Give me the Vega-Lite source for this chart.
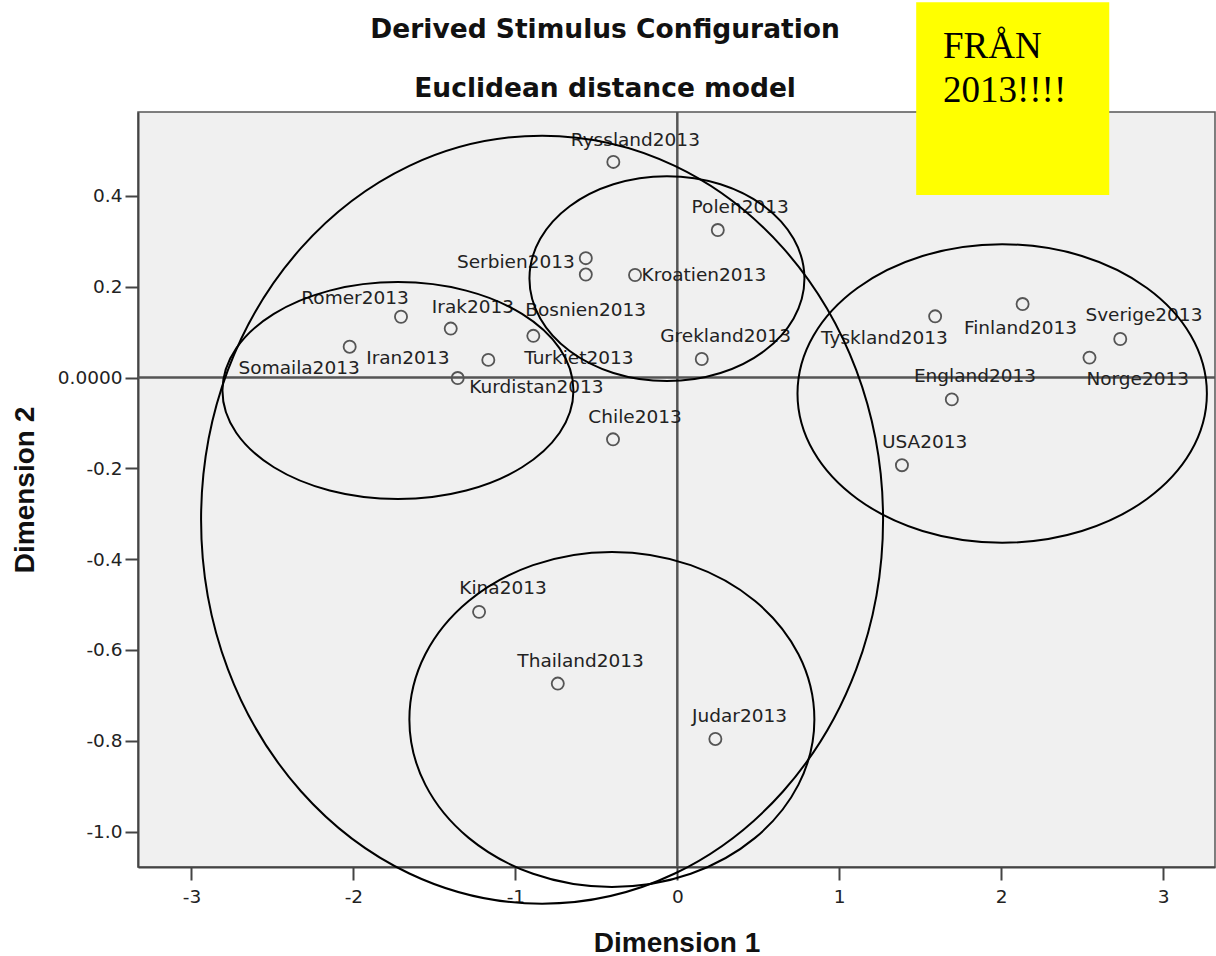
{
  "$schema": "https://vega.github.io/schema/vega-lite/v6.json",
  "width": 1077,
  "height": 755,
  "autosize": {"type": "none"},
  "padding": {"left": 138, "top": 112, "right": 1, "bottom": 89},
  "background": "white",
  "config": {
    "view": {"fill": "#f0f0f0", "stroke": "#555", "strokeWidth": 1.5},
    "axis": {
      "grid": false,
      "domainColor": "#444",
      "domainWidth": 2,
      "tickColor": "#444",
      "tickWidth": 2,
      "tickSize": 13,
      "labelFont": "DejaVu Sans",
      "labelFontSize": 18.5,
      "labelColor": "#222",
      "labelOverlap": false,
      "labelFlush": false,
      "labelBound": false,
      "titleFont": "Liberation Sans",
      "titleFontWeight": "bold",
      "titleFontSize": 28,
      "titleColor": "#111"
    }
  },
  "datasets": {
    "points": [
      {"name": "Ryssland2013", "d1": -0.395, "d2": 0.475, "lx": -0.259, "ly": 0.510},
      {"name": "Polen2013", "d1": 0.250, "d2": 0.325, "lx": 0.388, "ly": 0.362},
      {"name": "Serbien2013", "d1": -0.565, "d2": 0.263, "lx": -0.997, "ly": 0.242},
      {"name": "Bosnien2013", "d1": -0.565, "d2": 0.227, "lx": -0.566, "ly": 0.136},
      {"name": "Kroatien2013", "d1": -0.261, "d2": 0.226, "lx": 0.164, "ly": 0.213},
      {"name": "Romer2013", "d1": -1.706, "d2": 0.134, "lx": -1.990, "ly": 0.163},
      {"name": "Irak2013", "d1": -1.399, "d2": 0.108, "lx": -1.262, "ly": 0.143},
      {"name": "Somaila2013", "d1": -2.023, "d2": 0.068, "lx": -2.335, "ly": 0.008},
      {"name": "Iran2013", "d1": -1.167, "d2": 0.039, "lx": -1.664, "ly": 0.030},
      {"name": "Turkiet2013", "d1": -0.889, "d2": 0.092, "lx": -0.608, "ly": 0.031},
      {"name": "Kurdistan2013", "d1": -1.356, "d2": -0.001, "lx": -0.870, "ly": -0.033},
      {"name": "Grekland2013", "d1": 0.151, "d2": 0.041, "lx": 0.298, "ly": 0.079},
      {"name": "Chile2013", "d1": -0.397, "d2": -0.136, "lx": -0.261, "ly": -0.101},
      {"name": "Kina2013", "d1": -1.224, "d2": -0.516, "lx": -1.076, "ly": -0.477},
      {"name": "Thailand2013", "d1": -0.738, "d2": -0.674, "lx": -0.597, "ly": -0.637},
      {"name": "Judar2013", "d1": 0.235, "d2": -0.796, "lx": 0.384, "ly": -0.759},
      {"name": "USA2013", "d1": 1.387, "d2": -0.193, "lx": 1.527, "ly": -0.154},
      {"name": "England2013", "d1": 1.695, "d2": -0.048, "lx": 1.838, "ly": -0.009},
      {"name": "Tyskland2013", "d1": 1.592, "d2": 0.135, "lx": 1.279, "ly": 0.075},
      {"name": "Finland2013", "d1": 2.132, "d2": 0.162, "lx": 2.119, "ly": 0.097},
      {"name": "Sverige2013", "d1": 2.735, "d2": 0.085, "lx": 2.881, "ly": 0.125},
      {"name": "Norge2013", "d1": 2.545, "d2": 0.044, "lx": 2.843, "ly": -0.017}
    ],
    "ellipses": [
      {"group": "big", "cx": -0.835, "cy": -0.313},
      {"group": "center", "cx": -0.064, "cy": 0.218},
      {"group": "left", "cx": -1.725, "cy": -0.0286},
      {"group": "right", "cx": 2.006, "cy": -0.035},
      {"group": "bottom", "cx": -0.404, "cy": -0.753}
    ]
  },
  "layer": [
    {
      "data": {"values": [{}]},
      "mark": {"type": "rule", "color": "#555", "strokeWidth": 2.5},
      "encoding": {"x": {"datum": 0, "type": "quantitative"}}
    },
    {
      "data": {"values": [{}]},
      "mark": {"type": "rule", "color": "#555", "strokeWidth": 2.5},
      "encoding": {"y": {"datum": 0, "type": "quantitative"}}
    },
    {
      "data": {"name": "points"},
      "mark": {"type": "point", "shape": "circle", "filled": false, "size": 147, "stroke": "#555", "strokeWidth": 1.8, "opacity": 1},
      "encoding": {
        "x": {
          "field": "d1", "type": "quantitative", "title": "Dimension 1",
          "scale": {"domain": [-3.33, 3.32], "nice": false, "zero": false},
          "axis": {
            "values": [-3, -2, -1, 0, 1, 2, 3],
            "labelExpr": "'' + datum.value",
            "labelPadding": 7,
            "titleY": 84,
            "titleBaseline": "alphabetic"
          }
        },
        "y": {
          "field": "d2", "type": "quantitative", "title": "Dimension 2",
          "scale": {"domain": [-1.078, 0.585], "nice": false, "zero": false},
          "axis": {
            "values": [-1, -0.8, -0.6, -0.4, -0.2, 0, 0.2, 0.4],
            "labelExpr": "datum.value == 0 ? '0.0000' : (datum.value < 0 ? '-' : '') + format(abs(datum.value), '.1f')",
            "labelPadding": 3,
            "titleX": -104.7,
            "titleY": 377.5,
            "titleAngle": 270,
            "titleBaseline": "alphabetic"
          }
        }
      }
    },
    {
      "data": {"name": "points"},
      "mark": {"type": "text", "font": "DejaVu Sans", "fontSize": 18.5, "color": "#222", "align": "center", "baseline": "alphabetic"},
      "encoding": {
        "x": {"field": "lx", "type": "quantitative", "title": "Dimension 1"},
        "y": {"field": "ly", "type": "quantitative", "title": "Dimension 2"},
        "text": {"field": "name"}
      }
    },
    {
      "data": {"name": "ellipses"},
      "transform": [{"filter": "datum.group == 'big'"}],
      "mark": {"type": "point", "shape": "M -0.888 0 A 0.888 1 0 1 0 0.888 0 A 0.888 1 0 1 0 -0.888 0 Z", "size": 589824, "filled": false, "stroke": "black", "strokeWidth": 2, "opacity": 1},
      "encoding": {
        "x": {"field": "cx", "type": "quantitative", "title": "Dimension 1"},
        "y": {"field": "cy", "type": "quantitative", "title": "Dimension 2"}
      }
    },
    {
      "data": {"name": "ellipses"},
      "transform": [{"filter": "datum.group == 'center'"}],
      "mark": {"type": "point", "shape": "M -1 0 A 1 0.745 0 1 0 1 0 A 1 0.745 0 1 0 -1 0 Z", "size": 75625, "filled": false, "stroke": "black", "strokeWidth": 2, "opacity": 1},
      "encoding": {
        "x": {"field": "cx", "type": "quantitative", "title": "Dimension 1"},
        "y": {"field": "cy", "type": "quantitative", "title": "Dimension 2"}
      }
    },
    {
      "data": {"name": "ellipses"},
      "transform": [{"filter": "datum.group == 'left'"}],
      "mark": {"type": "point", "shape": "M -1 0 A 1 0.618 0 1 0 1 0 A 1 0.618 0 1 0 -1 0 Z", "size": 123201, "filled": false, "stroke": "black", "strokeWidth": 2, "opacity": 1},
      "encoding": {
        "x": {"field": "cx", "type": "quantitative", "title": "Dimension 1"},
        "y": {"field": "cy", "type": "quantitative", "title": "Dimension 2"}
      }
    },
    {
      "data": {"name": "ellipses"},
      "transform": [{"filter": "datum.group == 'right'"}],
      "mark": {"type": "point", "shape": "M -1 0 A 1 0.729 0 1 0 1 0 A 1 0.729 0 1 0 -1 0 Z", "size": 167608, "filled": false, "stroke": "black", "strokeWidth": 2, "opacity": 1},
      "encoding": {
        "x": {"field": "cx", "type": "quantitative", "title": "Dimension 1"},
        "y": {"field": "cy", "type": "quantitative", "title": "Dimension 2"}
      }
    },
    {
      "data": {"name": "ellipses"},
      "transform": [{"filter": "datum.group == 'bottom'"}],
      "mark": {"type": "point", "shape": "M -1 0 A 1 0.827 0 1 0 1 0 A 1 0.827 0 1 0 -1 0 Z", "size": 164025, "filled": false, "stroke": "black", "strokeWidth": 2, "opacity": 1},
      "encoding": {
        "x": {"field": "cx", "type": "quantitative", "title": "Dimension 1"},
        "y": {"field": "cy", "type": "quantitative", "title": "Dimension 2"}
      }
    },
    {
      "data": {"values": [{}]},
      "mark": {"type": "rect", "color": "#ffff00", "opacity": 1},
      "encoding": {
        "x": {"datum": 1.475, "type": "quantitative"},
        "x2": {"datum": 2.667},
        "y": {"datum": 0.827, "type": "quantitative"},
        "y2": {"datum": 0.402}
      }
    },
    {
      "data": {"values": [{}]},
      "mark": {"type": "text", "text": ["FRÅN", "2013!!!!"], "font": "Liberation Serif", "fontSize": 37, "lineHeight": 43.4, "align": "left", "baseline": "alphabetic", "color": "black"},
      "encoding": {
        "x": {"datum": 1.64, "type": "quantitative"},
        "y": {"datum": 0.703, "type": "quantitative"}
      }
    },
    {
      "data": {"values": [{}]},
      "mark": {"type": "text", "text": "Derived Stimulus Configuration", "font": "DejaVu Sans", "fontWeight": "bold", "fontSize": 26.5, "align": "center", "baseline": "alphabetic", "color": "#111"},
      "encoding": {
        "x": {"datum": -0.446, "type": "quantitative"},
        "y": {"datum": 0.749, "type": "quantitative"}
      }
    },
    {
      "data": {"values": [{}]},
      "mark": {"type": "text", "text": "Euclidean distance model", "font": "DejaVu Sans", "fontWeight": "bold", "fontSize": 26.5, "align": "center", "baseline": "alphabetic", "color": "#111"},
      "encoding": {
        "x": {"datum": -0.446, "type": "quantitative"},
        "y": {"datum": 0.618, "type": "quantitative"}
      }
    }
  ]
}
